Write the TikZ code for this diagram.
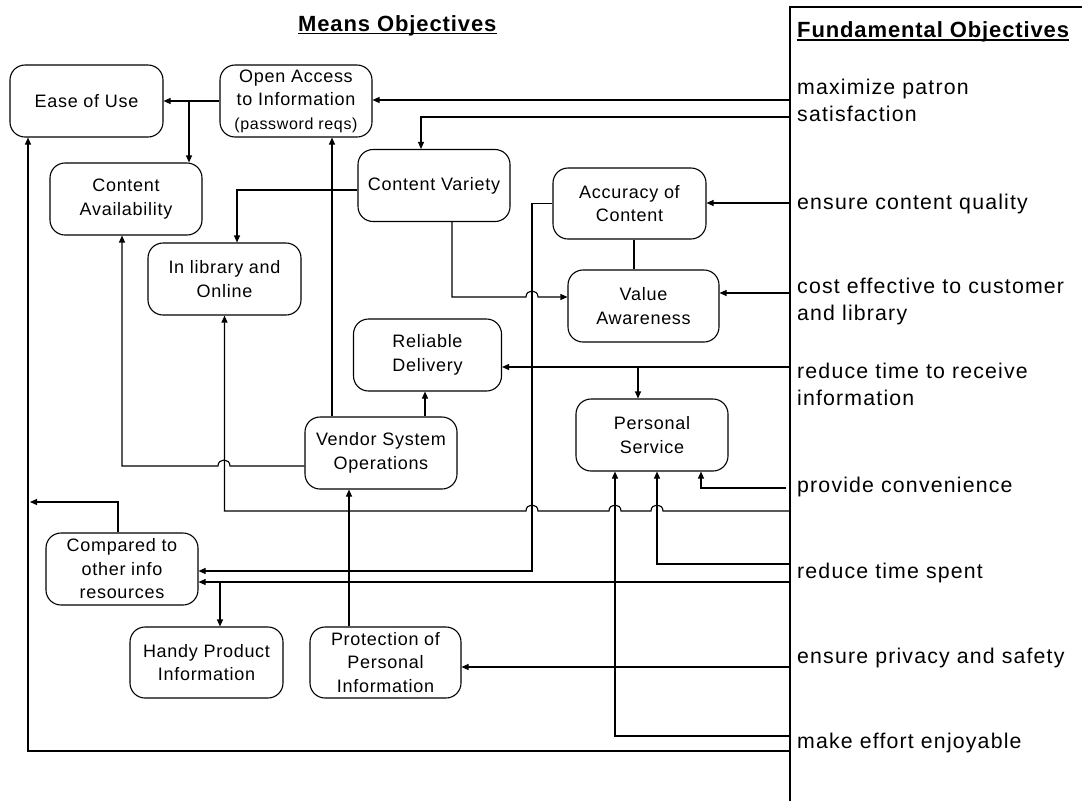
\documentclass[tikz,border=0pt]{standalone}
\usepackage{fontspec}
\setmainfont{Liberation Sans}
\newfontfamily\boxfont[LetterSpace=4]{Liberation Sans}
\newfontfamily\rfont[LetterSpace=5.5]{Liberation Sans}
\newfontfamily\hfont[LetterSpace=4]{Liberation Sans}
\usetikzlibrary{arrows.meta,calc}
\begin{document}
\begin{tikzpicture}[x=1pt,y=-1pt,
  mbox/.style={draw,rounded corners=15pt,line width=1.1pt,minimum width=152pt,minimum height=72pt,align=center,inner sep=0pt,font=\boxfont\fontsize{18}{23.5}\selectfont},
  conn/.style={line width=1.1pt},
  arr/.style={conn,-{Triangle[length=7pt,width=6pt]}},
  rtext/.style={anchor=base west,inner sep=0pt,font=\rfont\fontsize{21.3}{27}\selectfont},
  head/.style={anchor=base west,inner sep=0pt,font=\hfont\bfseries\fontsize{22}{27}\selectfont}
]
\useasboundingbox (0,0) rectangle (1082,801);
\fill[white] (0,0) rectangle (1082,801);

% headings
\node[head] (means) at (298,31) {Means Objectives};
\draw[line width=1.4pt] ($(means.base west)+(0,2.5)$) -- ($(means.base east)+(0,2.5)$);
\node[head] (fund) at (797,37) {Fundamental Objectives};
\draw[line width=1.4pt] ($(fund.base west)+(0,3)$) -- ($(fund.base east)+(0,3)$);

% frame of fundamental objectives
\coordinate (FB) at (790,801);
\coordinate (FT) at (790,7);
\coordinate (FR) at (1082,7);
\draw[conn] (FB) -- (FT) -- (FR);

% fundamental objectives texts
\node[rtext] (f1a) at (797,94) {maximize patron};
\node[rtext] (f1b) at (797,121) {satisfaction};
\node[rtext] (f2) at (797,209) {ensure content quality};
\node[rtext] (f3a) at (797,293) {cost effective to customer};
\node[rtext] (f3b) at (797,320) {and library};
\node[rtext] (f4a) at (797,378) {reduce time to receive};
\node[rtext] (f4b) at (797,405) {information};
\node[rtext] (f5) at (797,492) {provide convenience};
\node[rtext] (f6) at (797,578) {reduce time spent};
\node[rtext] (f7) at (797,663) {ensure privacy and safety};
\node[rtext] (f8) at (797,748) {make effort enjoyable};

% means objectives boxes
\node[mbox,minimum width=153pt] (ease) at (86.5,101) {Ease of Use};
\node[mbox] (open) at (296,101) {Open Access\\to Information\\{\fontsize{16}{23.5}\selectfont(password reqs)}};
\node[mbox] (avail) at (126,199) {Content\\Availability};
\node[mbox] (variety) at (434,185.5) {Content Variety};
\node[mbox,minimum width=153pt,minimum height=71pt] (accuracy) at (629.5,203.5) {Accuracy of\\Content};
\node[mbox,minimum width=151pt] (value) at (643.5,306) {Value\\Awareness};
\node[mbox,minimum width=153pt] (inlib) at (224.5,279) {In library and\\Online};
\node[mbox,minimum width=148pt] (reliable) at (427.5,355) {Reliable\\Delivery};
\node[mbox] (vendor) at (381,453) {Vendor System\\Operations};
\node[mbox] (personal) at (652,435) {Personal\\Service};
\node[mbox] (compared) at (122,569) {Compared to\\other info\\resources};
\node[mbox,minimum width=153pt,minimum height=71pt] (handy) at (206.5,662.5) {Handy Product\\Information};
\node[mbox,minimum width=151pt,minimum height=71pt] (protect) at (385.5,662.5) {Protection of\\Personal\\Information};

% free ends on the frame
\coordinate (R1) at (790,100);
\coordinate (R2) at (790,117);
\coordinate (R3) at (790,203);
\coordinate (R4) at (790,293);
\coordinate (R5) at (790,367);
\coordinate (R6) at (786,488);
\coordinate (R7) at (790,511);
\coordinate (R8) at (790,564);
\coordinate (R9) at (790,582);
\coordinate (R10) at (790,667);
\coordinate (R11) at (790,736);
\coordinate (R12) at (790,751);
\coordinate (B1) at (189,101);
\coordinate (B2) at (638,367);
\coordinate (B3) at (220,582);
\coordinate (L1) at (30,502);

% connectors
\draw[arr] (R1) -- (R1 -| open.east);
\draw[arr] (R2) -| ($(variety.north)+(-13,0)$);
\draw[arr] (open.west) -- (ease.east);
\draw[arr] (B1) -- (B1 |- avail.north);
\draw[arr] ($(variety.west)+(0,4.5)$) -| ($(inlib.north)+(12.5,0)$);
\draw[arr] ($(variety.south)+(18,0)$) -- (452,297) -- (526,297)
  .. controls (526,289) and (538,289) .. (538,297) -- ($(value.west)+(0,-9)$);
\draw[arr] (accuracy.west) -| (532,571) -- ($(compared.east)+(0,2)$);
\draw[conn] ($(accuracy.south)+(4.5,0)$) -- ($(value.north)+(-9.5,0)$);
\draw[arr] (R3) -- (R3 -| accuracy.east);
\draw[arr] (R4) -- (R4 -| value.east);
\draw[arr] (R5) -- (R5 -| reliable.east);
\draw[arr] (B2) -- (B2 |- personal.north);
\draw[arr] ($(vendor.north)+(44,0)$) -- ($(reliable.south)+(-2.5,0)$);
\draw[arr] ($(vendor.north)+(-49,0)$) -- ($(open.south)+(36,0)$);
\draw[arr] ($(vendor.west)+(0,13)$) -- (230,466)
  .. controls (230,458) and (218,458) .. (218,466) -| ($(avail.south)+(-4,0)$);
\draw[arr] (R7) -- (663,511) .. controls (663,503) and (651,503) .. (651,511)
  -- (621,511) .. controls (621,503) and (609,503) .. (609,511)
  -- (538,511) .. controls (538,503) and (526,503) .. (526,511)
  -| (inlib.south);
\draw[arr] (R6) -| ($(personal.south)+(49,0)$);
\draw[arr] (R8) -| ($(personal.south)+(5,0)$);
\draw[arr] (R9) -- (R9 -| compared.east);
\draw[arr] (B3) -- (B3 |- handy.north);
\draw[arr] (R10) -- (R10 -| protect.east);
\draw[arr] (R11) -| ($(personal.south)+(-37,0)$);
\draw[arr] (R12) -| ($(ease.south)+(-58.5,0)$);
\draw[arr] ($(compared.north)+(-4,0)$) |- (L1);
\draw[arr] ($(protect.north)+(-36.5,0)$) -- ($(vendor.south)+(-32,0)$);
\end{tikzpicture}
\end{document}
